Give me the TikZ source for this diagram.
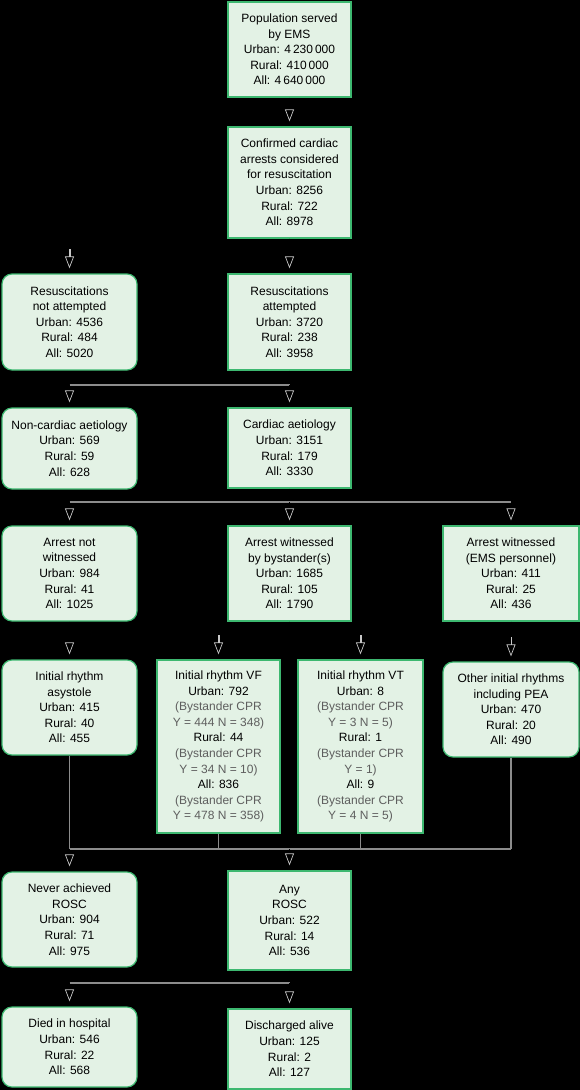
\documentclass[tikz,border=0pt]{standalone}
\usepackage{fontspec}
\setmainfont{Liberation Sans}
\usetikzlibrary{arrows.meta}
\definecolor{boxfill}{HTML}{E3F2E5}
\definecolor{boxgreen}{HTML}{3DB870}
\definecolor{linegrey}{HTML}{8C8C8C}
\definecolor{tipgrey}{HTML}{C8C8C8}
\definecolor{cprgrey}{HTML}{5E5E5E}
\newcommand{\bycpr}[1]{{\color{cprgrey}#1}}
\tikzstyle{box} = [rectangle, draw=boxgreen, fill=boxfill, line width=1.2pt, align=center, inner sep=0pt, font=\fontsize{12}{15.6}\selectfont]
\tikzstyle{rbox} = [box, rounded corners=10pt]
\tikzstyle{arrow} = [draw=black, -{Triangle[open,width=9pt,length=12pt,color=tipgrey,line width=0.7pt]}, shorten >=5pt]
\tikzstyle{stemarrow} = [draw=black, -{Rectangle[width=1pt,length=7pt,color=tipgrey,sep=0pt] Triangle[open,width=9pt,length=12pt,color=tipgrey,line width=0.7pt]}, shorten >=5pt]
\tikzstyle{bus} = [draw=linegrey, line width=1.2pt]

\begin{document}
\begin{tikzpicture}[x=1pt,y=-1pt]
\fill[black] (0,0) rectangle (580,1090);
\useasboundingbox (0,0) rectangle (580,1090);

\node (pop) [box, minimum width=123pt, minimum height=95pt] at (289.5,49.5) {Population served\\by EMS\\Urban: 4\,230\,000\\Rural: 410\,000\\All: 4\,640\,000};
\node (conf) [box, minimum width=123pt, minimum height=111pt] at (289.5,182.5) {Confirmed cardiac\\arrests considered\\for resuscitation\\Urban: 8256\\Rural: 722\\All: 8978};
\node (notatt) [rbox, minimum width=135pt, minimum height=96pt] at (69.5,322) {Resuscitations\\not attempted\\Urban: 4536\\Rural: 484\\All: 5020};
\node (att) [box, minimum width=123pt, minimum height=96pt] at (289.5,322) {Resuscitations\\attempted\\Urban: 3720\\Rural: 238\\All: 3958};
\node (noncard) [rbox, minimum width=135pt, minimum height=81pt] at (69.5,448.5) {Non-cardiac aetiology\\Urban: 569\\Rural: 59\\All: 628};
\node (card) [box, minimum width=123pt, minimum height=80pt] at (289.5,448) {Cardiac aetiology\\Urban: 3151\\Rural: 179\\All: 3330};
\node (notwit) [rbox, minimum width=135pt, minimum height=95pt] at (69.5,573.5) {Arrest not\\witnessed\\Urban: 984\\Rural: 41\\All: 1025};
\node (bywit) [box, minimum width=123pt, minimum height=95pt] at (289.5,573.5) {Arrest witnessed\\by bystander(s)\\Urban: 1685\\Rural: 105\\All: 1790};
\node (emswit) [box, minimum width=136pt, minimum height=95pt] at (511,573.5) {Arrest witnessed\\(EMS personnel)\\Urban: 411\\Rural: 25\\All: 436};
\node (asys) [rbox, minimum width=135pt, minimum height=95pt] at (69.5,707.5) {Initial rhythm\\asystole\\Urban: 415\\Rural: 40\\All: 455};
\node (vf) [box, minimum width=123pt, minimum height=173pt] at (218.5,746.5) {Initial rhythm VF\\Urban: 792\\\bycpr{(Bystander CPR}\\\bycpr{Y = 444 N = 348)}\\Rural: 44\\\bycpr{(Bystander CPR}\\\bycpr{Y = 34 N = 10)}\\All: 836\\\bycpr{(Bystander CPR}\\\bycpr{Y = 478 N = 358)}};
\node (vt) [box, minimum width=125pt, minimum height=173pt] at (360.5,746.5) {Initial rhythm VT\\Urban: 8\\\bycpr{(Bystander CPR}\\\bycpr{Y = 3 N = 5)}\\Rural: 1\\\bycpr{(Bystander CPR}\\\bycpr{Y = 1)}\\All: 9\\\bycpr{(Bystander CPR}\\\bycpr{Y = 4 N = 5)}};
\node (other) [rbox, minimum width=136pt, minimum height=95pt] at (511,709.5) {Other initial rhythms\\including PEA\\Urban: 470\\Rural: 20\\All: 490};
\node (never) [rbox, minimum width=135pt, minimum height=95pt] at (69.5,919.5) {Never achieved\\ROSC\\Urban: 904\\Rural: 71\\All: 975};
\node (any) [box, minimum width=123pt, minimum height=99pt] at (289.5,920.5) {Any\\ROSC\\Urban: 522\\Rural: 14\\All: 536};
\node (died) [rbox, minimum width=135pt, minimum height=80pt] at (69.5,1047) {Died in hospital\\Urban: 546\\Rural: 22\\All: 568};
\node (disch) [box, minimum width=123pt, minimum height=80pt] at (289.5,1049) {Discharged alive\\Urban: 125\\Rural: 2\\All: 127};

% junctions
\coordinate (split1) at (69.5,250);
\coordinate (split2) at (289.5,385);
\coordinate (split2l) at (69.5,385);
\coordinate (split3) at (289.5,502);
\coordinate (split3l) at (69.5,502);
\coordinate (split3r) at (511,502);
\coordinate (split4l) at (218.5,632);
\coordinate (split4r) at (360.5,632);
\coordinate (merge) at (289.5,849);
\coordinate (mergel) at (69.5,849);
\coordinate (merger) at (511,849);
\coordinate (mergevf) at (218.5,849);
\coordinate (mergevt) at (360.5,849);
\coordinate (split5) at (289.5,983);
\coordinate (split5l) at (69.5,983);

\draw [arrow] (pop) -- (conf);
\draw [arrow] (conf) -- (att);
\draw [stemarrow] (conf.south) |- (split1) -- (notatt);

\draw (att) -- (split2);
\draw [bus] (split2l) -- (split2);
\draw [arrow] (split2l) -- (noncard);
\draw [arrow] (split2) -- (card);

\draw (card) -- (split3);
\draw [bus] (split3l) -- (split3r);
\draw [arrow] (split3l) -- (notwit);
\draw [arrow] (split3) -- (bywit);
\draw [arrow] (split3r) -- (emswit);

\draw [arrow] (notwit) -- (asys);
\draw [stemarrow] (bywit.south) |- (split4l) -- (vf);
\draw [stemarrow] (bywit.south) |- (split4r) -- (vt);
\draw [stemarrow] (emswit) -- (other);

\draw [bus] (asys) -- (mergel);
\draw [bus] (vf) -- (mergevf);
\draw [bus] (vt) -- (mergevt);
\draw [bus] (other) -- (merger);
\draw [bus] (mergel) -- (merger);
\draw [arrow] (mergel) -- (never);
\draw [arrow] (merge) -- (any);

\draw (any) -- (split5);
\draw [bus] (split5l) -- (split5);
\draw [arrow] (split5l) -- (died);
\draw [arrow] (split5) -- (disch);
\end{tikzpicture}
\end{document}
